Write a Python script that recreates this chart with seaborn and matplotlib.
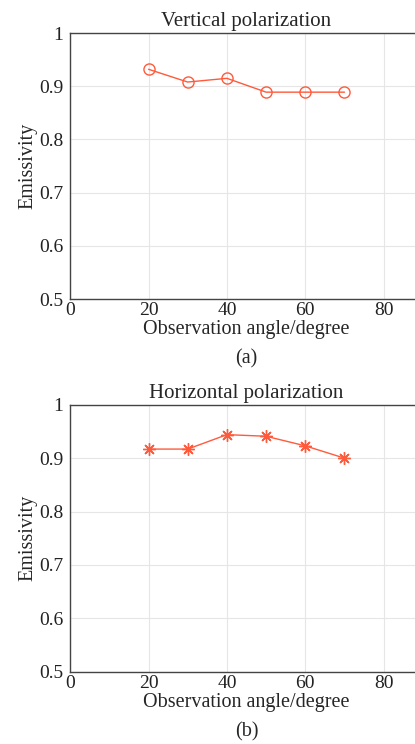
import numpy as np
import pandas as pd
import seaborn as sns
import matplotlib.pyplot as plt

angles = [20, 30, 40, 50, 60, 70]
vertical = [0.932, 0.908, 0.915, 0.889, 0.889, 0.889]
horizontal = [0.917, 0.917, 0.944, 0.941, 0.923, 0.900]
x_ticks = [0, 20, 40, 60, 80]
y_ticks = [0.5, 0.6, 0.7, 0.8, 0.9, 1.0]
y_labels = ['0.5', '0.6', '0.7', '0.8', '0.9', '1']

sns.set_style('whitegrid')
plt.rcParams['font.family'] = ['Liberation Serif', 'DejaVu Serif']
plt.rcParams['font.size'] = 14

line_color = '#ff5a3c'

fig = plt.figure(figsize=(4.15, 7.44), dpi=100)
ax1 = fig.add_axes([0.169, 0.598, 0.85, 0.3575])
ax2 = fig.add_axes([0.169, 0.097, 0.85, 0.359])

df_v = pd.DataFrame({'angle': angles, 'emissivity': vertical})
df_h = pd.DataFrame({'angle': angles, 'emissivity': horizontal})

sns.lineplot(data=df_v, x='angle', y='emissivity', ax=ax1, color=line_color,
             marker='o', markersize=8, markerfacecolor='none',
             markeredgecolor=line_color, markeredgewidth=1, linewidth=1)
sns.lineplot(data=df_h, x='angle', y='emissivity', ax=ax2, color=line_color,
             marker=(8, 2, 0), markersize=9, markerfacecolor=line_color,
             markeredgecolor=line_color, markeredgewidth=1, linewidth=1)

for ax, title, tag in [(ax1, 'Vertical polarization', '(a)'),
                       (ax2, 'Horizontal polarization', '(b)')]:
    ax.set_xlim(0, 90)
    ax.set_ylim(0.5, 1.0)
    ax.set_xticks(x_ticks)
    ax.set_yticks(y_ticks)
    ax.set_yticklabels(y_labels)
    ax.set_title(title, fontsize=15, pad=5)
    ax.set_xlabel('Observation angle/degree', fontsize=14.5, labelpad=1)
    ax.set_ylabel('Emissivity', fontsize=14.5, labelpad=1)
    ax.grid(True, color='#e6e6e6', linewidth=0.8)
    for side in ['left', 'bottom', 'top']:
        ax.spines[side].set_color('#444444')
        ax.spines[side].set_linewidth(1)
    ax.spines['right'].set_visible(False)
    ax.tick_params(axis='both', labelsize=14, colors='#222222', length=0)
    ax.tick_params(axis='x', pad=2)
    ax.tick_params(axis='y', pad=5)
    ax.text(0.5, -0.19, tag, transform=ax.transAxes, ha='center', va='top', fontsize=14.5)

fig.savefig('out.png', dpi=100)
